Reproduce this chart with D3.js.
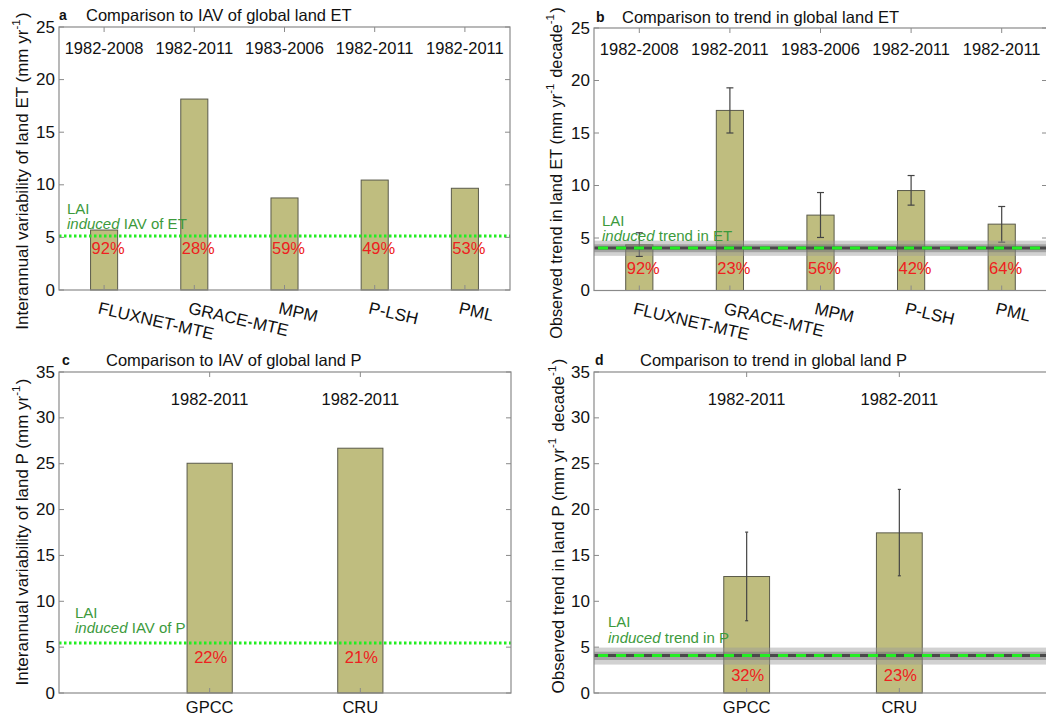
<!DOCTYPE html>
<html><head><meta charset="utf-8">
<script src="https://cdn.jsdelivr.net/npm/d3@7"></script>
<style>
html,body{margin:0;padding:0;background:#fff;}
svg{display:block;font-family:Arial,'Liberation Sans',Helvetica,sans-serif;}
</style></head>
<body>
<svg id="chart" width="1046" height="717"></svg>
<script>
// ---------- DATA ----------
const etProducts = ["FLUXNET-MTE", "GRACE-MTE", "MPM", "P-LSH", "PML"];
const etPeriods = ["1982-2008", "1982-2011", "1983-2006", "1982-2011", "1982-2011"];
const etIAV = [5.7, 18.15, 8.75, 10.45, 9.67];
const etIAVPct = ["92%", "28%", "59%", "49%", "53%"];
const laiEtIAV = 5.13;

const etTrend = [4.35, 17.15, 7.18, 9.52, 6.32];
const etTrendLow = [3.25, 15.0, 5.05, 8.13, 4.6];
const etTrendHigh = [5.5, 19.3, 9.33, 10.95, 8.0];
const etTrendPct = ["92%", "23%", "56%", "42%", "64%"];
const laiEtTrend = 4.04;
const laiEtTrendBand = [3.3, 4.75];
const laiEtTrendCore = [3.65, 4.4];

const pProducts = ["GPCC", "CRU"];
const pPeriods = ["1982-2011", "1982-2011"];
const pIAV = [25.05, 26.69];
const pIAVPct = ["22%", "21%"];
const laiPIAV = 5.45;

const pTrend = [12.7, 17.46];
const pTrendLow = [7.88, 12.78];
const pTrendHigh = [17.54, 22.2];
const pTrendPct = ["32%", "23%"];
const laiPTrend = 4.1;
const laiPTrendBand = [3.1, 4.95];
const laiPTrendCore = [3.6, 4.5];

const yTicksET = [0, 5, 10, 15, 20, 25];
const yTicksP = [0, 5, 10, 15, 20, 25, 30, 35];

// ---------- STYLE ----------
const barFill = "#bfbd7f", barStroke = "#5a5a4a";
const axisColor = "#8a8a8a";
const green = "#22ee22", textGreen = "#3c9a3c", red = "#ee2020";

const svg = d3.select("#chart");

function panel(cfg) {
  const g = svg.append("g");
  const n = cfg.cats.length;
  const x = d3.scaleLinear().domain(cfg.xdom).range([cfg.left, cfg.right]);
  const y = d3.scaleLinear().domain([0, cfg.ymax]).range([cfg.bottom, cfg.top]);
  const idx = d3.range(1, n + 1);
  const bw = 0.3;

  // bars
  g.selectAll("rect.bar").data(cfg.values).join("rect")
    .attr("x", (d, i) => x(idx[i] - bw / 2))
    .attr("width", (d, i) => x(idx[i] + bw / 2) - x(idx[i] - bw / 2))
    .attr("y", d => y(d))
    .attr("height", d => y(0) - y(d))
    .attr("fill", barFill).attr("stroke", barStroke).attr("stroke-width", 1);

  // error bars
  if (cfg.low) {
    cfg.low.forEach((lo, i) => {
      const cx = x(idx[i]);
      const hi = cfg.high[i];
      g.append("line").attr("x1", cx).attr("x2", cx).attr("y1", y(lo)).attr("y2", y(hi))
        .attr("stroke", "#444").attr("stroke-width", 1.2);
      [lo, hi].forEach(v => g.append("line")
        .attr("x1", cx - cfg.cap).attr("x2", cx + cfg.cap).attr("y1", y(v)).attr("y2", y(v))
        .attr("stroke", "#444").attr("stroke-width", 1.2));
    });
  }

  // LAI line
  if (cfg.band) {
    g.append("rect").attr("x", cfg.left).attr("width", cfg.right - cfg.left)
      .attr("y", y(cfg.band[1])).attr("height", y(cfg.band[0]) - y(cfg.band[1]))
      .attr("fill", "#9a9a9a").attr("opacity", 0.45);
    g.append("rect").attr("x", cfg.left).attr("width", cfg.right - cfg.left)
      .attr("y", y(cfg.core[1])).attr("height", y(cfg.core[0]) - y(cfg.core[1]))
      .attr("fill", "#6a6a6a").attr("opacity", 0.45);
    g.append("line").attr("x1", cfg.left).attr("x2", cfg.right)
      .attr("y1", y(cfg.lai)).attr("y2", y(cfg.lai))
      .attr("stroke", "#4a4a4a").attr("stroke-width", 3);
    g.append("line").attr("x1", cfg.left + 4).attr("x2", cfg.right)
      .attr("y1", y(cfg.lai)).attr("y2", y(cfg.lai))
      .attr("stroke", green).attr("stroke-width", 3).attr("stroke-dasharray", "10,8");
  } else {
    g.append("line").attr("x1", cfg.left).attr("x2", cfg.right)
      .attr("y1", y(cfg.lai)).attr("y2", y(cfg.lai))
      .attr("stroke", green).attr("stroke-width", 3).attr("stroke-dasharray", "2.5,2.5");
  }

  // box + ticks
  g.append("rect").attr("x", cfg.left).attr("y", cfg.top)
    .attr("width", cfg.right - cfg.left).attr("height", cfg.bottom - cfg.top)
    .attr("fill", "none").attr("stroke", axisColor).attr("stroke-width", 1.2);
  const tl = 5;
  cfg.yticks.forEach(t => {
    const yy = y(t);
    g.append("line").attr("x1", cfg.left).attr("x2", cfg.left + tl).attr("y1", yy).attr("y2", yy)
      .attr("stroke", axisColor);
    g.append("line").attr("x1", cfg.right).attr("x2", cfg.right - tl).attr("y1", yy).attr("y2", yy)
      .attr("stroke", axisColor);
    g.append("text").attr("x", cfg.left - 4).attr("y", yy).attr("text-anchor", "end")
      .attr("dominant-baseline", "central").attr("font-size", 17).attr("fill", "#111").text(t);
  });
  idx.forEach(k => {
    const xx = x(k);
    g.append("line").attr("x1", xx).attr("x2", xx).attr("y1", cfg.top).attr("y2", cfg.top + tl)
      .attr("stroke", axisColor);
    g.append("line").attr("x1", xx).attr("x2", xx).attr("y1", cfg.bottom).attr("y2", cfg.bottom - tl)
      .attr("stroke", axisColor);
  });

  // x category labels
  cfg.cats.forEach((c, i) => {
    const cx = x(idx[i]);
    if (cfg.rotate) {
      g.append("text").attr("transform", `translate(${cx - 4},${cfg.bottom + 11}) rotate(13)`)
        .attr("dy", "0.74em").attr("font-size", 17).attr("fill", "#111").text(c);
    } else {
      g.append("text").attr("x", cx).attr("y", cfg.bottom + 14).attr("text-anchor", "middle")
        .attr("dominant-baseline", "central").attr("font-size", 16.5).attr("fill", "#111").text(c);
    }
  });

  // period labels
  cfg.periods.forEach((p, i) => {
    g.append("text").attr("x", x(idx[i])).attr("y", cfg.periodY).attr("text-anchor", "middle")
      .attr("dominant-baseline", "central").attr("font-size", 16.5).attr("fill", "#111").text(p);
  });

  // percent labels
  cfg.pct.forEach((p, i) => {
    const t = g.append("text").attr("y", cfg.pctY).attr("dominant-baseline", "central")
      .attr("font-size", 16.5).attr("fill", red).text(p);
    if (cfg.pctCenter) t.attr("x", x(idx[i]) + 1).attr("text-anchor", "middle");
    else t.attr("x", x(idx[i] - bw / 2) + 1).attr("text-anchor", "start");
  });

  // LAI annotation
  g.append("text").attr("x", cfg.laiX).attr("y", cfg.laiY).attr("dominant-baseline", "central")
    .attr("font-size", 15).attr("fill", textGreen).text("LAI");
  const t2 = g.append("text").attr("x", cfg.laiX).attr("y", cfg.laiY + 15).attr("dominant-baseline", "central")
    .attr("font-size", 15).attr("fill", textGreen);
  t2.append("tspan").attr("font-style", "italic").text("induced");
  t2.append("tspan").text(" " + cfg.laiText);

  // title
  g.append("text").attr("x", cfg.letterX).attr("y", cfg.titleY).attr("dominant-baseline", "central")
    .attr("font-size", 14).attr("font-weight", "bold").attr("fill", "#111").text(cfg.letter);
  g.append("text").attr("x", cfg.titleX).attr("y", cfg.titleY).attr("dominant-baseline", "central")
    .attr("font-size", 16.5).attr("fill", "#111").text(cfg.title);

  // y label
  const yl = g.append("text").attr("transform", `translate(${cfg.ylabX},${cfg.ylabY}) rotate(-90)`)
    .attr("text-anchor", "middle").attr("dominant-baseline", "central")
    .attr("font-size", cfg.ylabSize).attr("fill", "#111");
  cfg.ylab.forEach(part => {
    if (part.sup) {
      yl.append("tspan").attr("dy", -6).attr("font-size", 11.5).text(part.t);
      yl.append("tspan").attr("dy", 6).text("\u200A");
    } else yl.append("tspan").text(part.t);
  });
}

panel({
  cats: etProducts, periods: etPeriods, values: etIAV, pct: etIAVPct, lai: laiEtIAV,
  xdom: [0.5, 5.5], ymax: 25, yticks: yTicksET,
  left: 59, right: 510, top: 27, bottom: 290, rotate: true,
  periodY: 48, pctY: 248, pctCenter: false,
  laiX: 67, laiY: 208, laiText: "IAV of ET",
  letter: "a", letterX: 59, titleX: 86, titleY: 15,
  title: "Comparison to IAV of global land ET",
  ylabX: 22, ylabY: 171, ylabSize: 17,
  ylab: [{t: "Interannual variability of land ET (mm yr"}, {t: "-1", sup: true}, {t: ")"}]
});

panel({
  cats: etProducts, periods: etPeriods, values: etTrend, pct: etTrendPct, lai: laiEtTrend,
  low: etTrendLow, high: etTrendHigh, cap: 3.5,
  band: laiEtTrendBand, core: laiEtTrendCore,
  xdom: [0.5, 5.5], ymax: 25, yticks: yTicksET,
  left: 594, right: 1047, top: 28, bottom: 290.5, rotate: true,
  periodY: 49, pctY: 267.5, pctCenter: false,
  laiX: 602, laiY: 220, laiText: "trend in ET",
  letter: "b", letterX: 596, titleX: 622, titleY: 17,
  title: "Comparison to trend in global land ET",
  ylabX: 556, ylabY: 173, ylabSize: 16.3,
  ylab: [{t: "Observed trend in land ET (mm yr"}, {t: "-1", sup: true}, {t: " decade"}, {t: "-1", sup: true}, {t: ")"}]
});

panel({
  cats: pProducts, periods: pPeriods, values: pIAV, pct: pIAVPct, lai: laiPIAV,
  xdom: [0, 3], ymax: 35, yticks: yTicksP,
  left: 59, right: 511, top: 372, bottom: 693, rotate: false,
  periodY: 399, pctY: 657, pctCenter: true,
  laiX: 75, laiY: 612, laiText: "IAV of P",
  letter: "c", letterX: 62, titleX: 106, titleY: 360,
  title: "Comparison to IAV of global land P",
  ylabX: 22, ylabY: 532, ylabSize: 17,
  ylab: [{t: "Interannual variability of land P (mm yr"}, {t: "-1", sup: true}, {t: ")"}]
});

panel({
  cats: pProducts, periods: pPeriods, values: pTrend, pct: pTrendPct, lai: laiPTrend,
  low: pTrendLow, high: pTrendHigh, cap: 1.5,
  band: laiPTrendBand, core: laiPTrendCore,
  xdom: [0, 3], ymax: 35, yticks: yTicksP,
  left: 594, right: 1052, top: 372, bottom: 693, rotate: false,
  periodY: 399, pctY: 675, pctCenter: true,
  laiX: 608, laiY: 621.5, laiText: "trend in P",
  letter: "d", letterX: 595, titleX: 640, titleY: 360,
  title: "Comparison to trend in global land P",
  ylabX: 558, ylabY: 526, ylabSize: 17,
  ylab: [{t: "Observed trend in land P (mm yr"}, {t: "-1", sup: true}, {t: " decade"}, {t: "-1", sup: true}, {t: ")"}]
});
</script>
</body></html>
